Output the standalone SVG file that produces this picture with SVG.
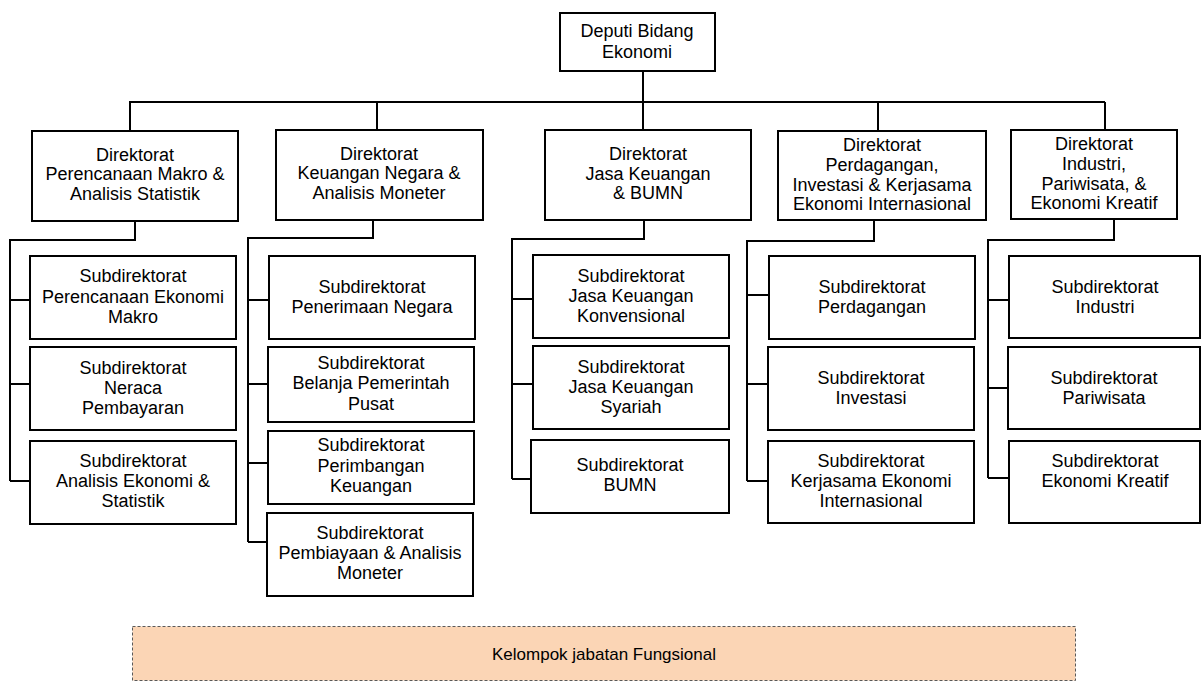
<svg xmlns="http://www.w3.org/2000/svg" width="1202" height="682" viewBox="0 0 1202 682">
  <style>
    .box { fill: #ffffff; stroke: #000000; stroke-width: 2; }
    .lbl { font-family: "Liberation Sans", Arial, sans-serif; font-size: 18px; fill: #000000; text-anchor: middle; }
    .wire { fill: none; stroke: #000000; stroke-width: 2; }
    .fung { fill: #fbd5b5; stroke: #595959; stroke-width: 1; stroke-dasharray: 3 2; }
    .fungtxt { font-family: "Liberation Sans", Arial, sans-serif; font-size: 17px; fill: #000000; text-anchor: middle; }
  </style>

  <!-- connectors -->
  <g id="connectors">
    <path class="wire" d="M643,71 V102 M129,102 H1105 M130,102 V131 M377,102 V130 M643,102 V130 M878,102 V131 M1105,102 V130"/>
    <path class="wire" d="M135,221 V240 H10 V481 M10,300 H30 M10,384 H30 M10,481 H30"/>
    <path class="wire" d="M373,220 V238 H248 V542 M248,300 H269 M248,384 H269 M248,463 H269 M248,542 H267"/>
    <path class="wire" d="M644,220 V239 H512 V479 M512,299 H533 M512,384 H533 M512,479 H531"/>
    <path class="wire" d="M874,220 V241 H747 V481 M747,295 H769 M747,384 H769 M747,481 H769"/>
    <path class="wire" d="M1114,219 V240 H988 V478 M988,300 H1009 M988,388 H1009 M988,478 H1009"/>
  </g>

  <!-- top -->
  <g id="deputi">
    <rect class="box" x="560" y="13" width="155" height="58"/>
    <text class="lbl"><tspan x="637" y="37">Deputi Bidang</tspan><tspan x="637" y="58">Ekonomi</tspan></text>
  </g>

  <!-- directorates -->
  <g id="dir-makro">
    <rect class="box" x="32" y="131" width="206" height="90"/>
    <text class="lbl"><tspan x="135" y="161">Direktorat</tspan><tspan x="135" y="180">Perencanaan Makro &amp;</tspan><tspan x="135" y="200">Analisis Statistik</tspan></text>
  </g>
  <g id="dir-keuangan">
    <rect class="box" x="276" y="130" width="207" height="90"/>
    <text class="lbl"><tspan x="379" y="160">Direktorat</tspan><tspan x="379" y="179">Keuangan Negara &amp;</tspan><tspan x="379" y="199">Analisis Moneter</tspan></text>
  </g>
  <g id="dir-jasa">
    <rect class="box" x="545" y="130" width="206" height="90"/>
    <text class="lbl"><tspan x="648" y="160">Direktorat</tspan><tspan x="648" y="180">Jasa Keuangan</tspan><tspan x="648" y="199">&amp; BUMN</tspan></text>
  </g>
  <g id="dir-perdagangan">
    <rect class="box" x="778" y="131" width="208" height="89"/>
    <text class="lbl"><tspan x="882" y="151">Direktorat</tspan><tspan x="882" y="171">Perdagangan,</tspan><tspan x="882" y="191">Investasi &amp; Kerjasama</tspan><tspan x="882" y="210">Ekonomi Internasional</tspan></text>
  </g>
  <g id="dir-industri">
    <rect class="box" x="1011" y="130" width="166" height="89"/>
    <text class="lbl"><tspan x="1094" y="150">Direktorat</tspan><tspan x="1094" y="170">Industri,</tspan><tspan x="1094" y="190">Pariwisata, &amp;</tspan><tspan x="1094" y="209">Ekonomi Kreatif</tspan></text>
  </g>

  <!-- subdirectorates: makro -->
  <g id="sub-perencanaan">
    <rect class="box" x="30" y="256" width="206" height="83"/>
    <text class="lbl"><tspan x="133" y="282">Subdirektorat</tspan><tspan x="133" y="303">Perencanaan Ekonomi</tspan><tspan x="133" y="323">Makro</tspan></text>
  </g>
  <g id="sub-neraca">
    <rect class="box" x="30" y="347" width="206" height="83"/>
    <text class="lbl"><tspan x="133" y="374">Subdirektorat</tspan><tspan x="133" y="394">Neraca</tspan><tspan x="133" y="414">Pembayaran</tspan></text>
  </g>
  <g id="sub-analisis">
    <rect class="box" x="30" y="441" width="206" height="83"/>
    <text class="lbl"><tspan x="133" y="467">Subdirektorat</tspan><tspan x="133" y="487">Analisis Ekonomi &amp;</tspan><tspan x="133" y="507">Statistik</tspan></text>
  </g>

  <!-- subdirectorates: keuangan negara -->
  <g id="sub-penerimaan">
    <rect class="box" x="269" y="256" width="206" height="83"/>
    <text class="lbl"><tspan x="372" y="293">Subdirektorat</tspan><tspan x="372" y="313">Penerimaan Negara</tspan></text>
  </g>
  <g id="sub-belanja">
    <rect class="box" x="268" y="347" width="206" height="75"/>
    <text class="lbl"><tspan x="371" y="369">Subdirektorat</tspan><tspan x="371" y="389">Belanja Pemerintah</tspan><tspan x="371" y="410">Pusat</tspan></text>
  </g>
  <g id="sub-perimbangan">
    <rect class="box" x="268" y="431" width="206" height="73"/>
    <text class="lbl"><tspan x="371" y="451">Subdirektorat</tspan><tspan x="371" y="472">Perimbangan</tspan><tspan x="371" y="492">Keuangan</tspan></text>
  </g>
  <g id="sub-pembiayaan">
    <rect class="box" x="267" y="513" width="206" height="83"/>
    <text class="lbl"><tspan x="370" y="539">Subdirektorat</tspan><tspan x="370" y="559">Pembiayaan &amp; Analisis</tspan><tspan x="370" y="579">Moneter</tspan></text>
  </g>

  <!-- subdirectorates: jasa keuangan -->
  <g id="sub-konvensional">
    <rect class="box" x="533" y="255" width="196" height="83"/>
    <text class="lbl"><tspan x="631" y="282">Subdirektorat</tspan><tspan x="631" y="302">Jasa Keuangan</tspan><tspan x="631" y="322">Konvensional</tspan></text>
  </g>
  <g id="sub-syariah">
    <rect class="box" x="533" y="346" width="196" height="83"/>
    <text class="lbl"><tspan x="631" y="373">Subdirektorat</tspan><tspan x="631" y="393">Jasa Keuangan</tspan><tspan x="631" y="413">Syariah</tspan></text>
  </g>
  <g id="sub-bumn">
    <rect class="box" x="531" y="440" width="198" height="73"/>
    <text class="lbl"><tspan x="630" y="471">Subdirektorat</tspan><tspan x="630" y="491">BUMN</tspan></text>
  </g>

  <!-- subdirectorates: perdagangan -->
  <g id="sub-perdagangan">
    <rect class="box" x="769" y="256" width="206" height="83"/>
    <text class="lbl"><tspan x="872" y="293">Subdirektorat</tspan><tspan x="872" y="313">Perdagangan</tspan></text>
  </g>
  <g id="sub-investasi">
    <rect class="box" x="768" y="347" width="206" height="83"/>
    <text class="lbl"><tspan x="871" y="384">Subdirektorat</tspan><tspan x="871" y="404">Investasi</tspan></text>
  </g>
  <g id="sub-kerjasama">
    <rect class="box" x="768" y="441" width="206" height="82"/>
    <text class="lbl"><tspan x="871" y="467">Subdirektorat</tspan><tspan x="871" y="487">Kerjasama Ekonomi</tspan><tspan x="871" y="507">Internasional</tspan></text>
  </g>

  <!-- subdirectorates: industri -->
  <g id="sub-industri">
    <rect class="box" x="1009" y="256" width="191" height="82"/>
    <text class="lbl"><tspan x="1105" y="293">Subdirektorat</tspan><tspan x="1105" y="313">Industri</tspan></text>
  </g>
  <g id="sub-pariwisata">
    <rect class="box" x="1008" y="347" width="192" height="82"/>
    <text class="lbl"><tspan x="1104" y="384">Subdirektorat</tspan><tspan x="1104" y="404">Pariwisata</tspan></text>
  </g>
  <g id="sub-ekraf">
    <rect class="box" x="1009" y="441" width="191" height="82"/>
    <text class="lbl"><tspan x="1105" y="467">Subdirektorat</tspan><tspan x="1105" y="487">Ekonomi Kreatif</tspan></text>
  </g>

  <!-- functional group band -->
  <g id="kelompok-fungsional">
    <rect class="fung" x="132.5" y="626.5" width="943" height="54"/>
    <text class="fungtxt" x="604" y="660">Kelompok jabatan Fungsional</text>
  </g>
</svg>
